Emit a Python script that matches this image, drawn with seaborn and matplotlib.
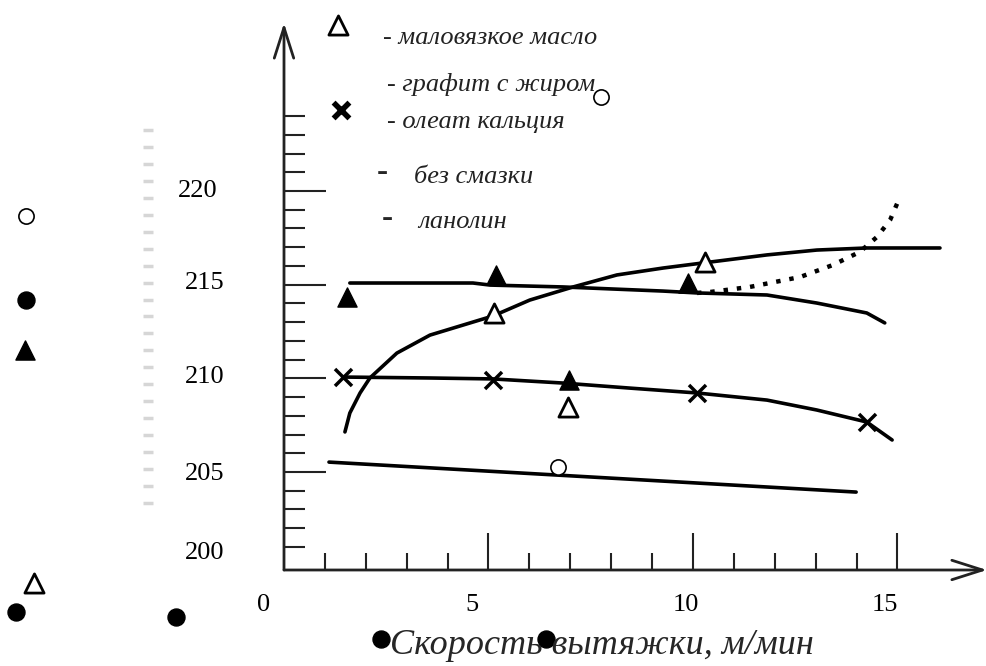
import numpy as np
import pandas as pd
import seaborn as sns
import matplotlib.pyplot as plt

sns.set_style("white")
plt.rcParams['font.family'] = ['Liberation Serif', 'DejaVu Serif']

# ── Data ────────────────────────────────────────────
# маловязкое масло (open triangles), rising curve
oil_x = [1.49, 1.61, 1.86, 2.10, 2.76, 3.57, 5.11, 6.01, 7.07, 8.14, 9.27, 10.24, 11.81, 13.03, 14.25, 16.04]
oil_y = [207.14, 208.15, 209.22, 210.02, 211.35, 212.31, 213.33, 214.18, 214.88, 215.52, 215.89, 216.16, 216.59, 216.85, 216.96, 216.96]
oil_pts_x = [5.13, 10.29, 6.94]
oil_pts_y = [213.49, 216.20, 208.47]

# filled-triangle curve (flat, then falling)
dry_x = [1.61, 4.62, 5.04, 6.82, 8.04, 9.27, 10.10, 11.81, 13.03, 14.25, 14.69]
dry_y = [215.09, 215.09, 214.98, 214.88, 214.77, 214.66, 214.56, 214.45, 214.02, 213.49, 212.96]
dry_pts_x = [1.54, 5.18, 9.88, 6.97]
dry_pts_y = [214.34, 215.52, 215.09, 209.91]

# dotted continuation
dot_x = [10.10, 10.42, 11.39, 12.62, 13.42, 14.08, 14.50, 14.82, 15.01]
dot_y = [214.56, 214.61, 214.88, 215.41, 216.05, 216.75, 217.55, 218.45, 219.42]

# олеат кальция (crosses)
ole_x = [1.44, 3.57, 5.11, 6.82, 8.46, 10.10, 11.81, 13.03, 14.25, 14.87]
ole_y = [210.07, 210.02, 209.97, 209.75, 209.48, 209.22, 208.84, 208.31, 207.67, 206.71]
ole_pts_x = [1.44, 5.11, 10.10, 14.25]
ole_pts_y = [210.07, 209.91, 209.22, 207.67]

# bottom straight line + open circle
low_x = [1.10, 13.99]
low_y = [205.53, 203.93]
circ_x = [6.70, 7.75, -6.31]
circ_y = [205.27, 225.02, 218.67]

# stray filled markers around the frame
dots_x = [-6.31, -6.55, -2.64, 2.37, 6.41]
dots_y = [214.18, 197.53, 197.26, 196.1, 196.1]
stray_tri_x = [-6.33]
stray_tri_y = [211.51]
stray_open_tri_x = [-6.11, 1.32]
stray_open_tri_y = [199.07, 228.87]

x_major = [5, 10, 15]
x_minor = list(range(1, 16))
x_labels = ["0", "5", "10", "15"]
x_label_pos = [-0.51, 4.60, 9.83, 14.69]
y_major = [205, 210, 215, 220]
y_minor = list(range(201, 225))
y_labels = ["200", "205", "210", "215", "220"]
y_label_pos = [200.68, 204.89, 210.07, 215.09, 220.0]

legend_items = ["- маловязкое масло", "- графит с жиром", "- олеат кальция"]

W, H = 987, 666
fig = plt.figure(figsize=(W / 100, H / 100), dpi=100)
ax = fig.add_axes([284 / W, 1 - 570 / H, (987 - 284) / W, (570 - 23) / H])
ax.set_xlim(0, 17.19)
ax.set_ylim(199.77, 228.97)

def px(x, y):
    return x / W, 1 - y / H

# ── Curves ─────────────────────────────────────────
lw = 2.6
for xs, ys in [(oil_x, oil_y), (dry_x, dry_y), (ole_x, ole_y), (low_x, low_y)]:
    sns.lineplot(x=xs, y=ys, sort=False, estimator=None, color="black", lw=lw, ax=ax)
ax.plot(dot_x, dot_y, color="black", lw=3.2, ls=(0, (1, 2.0)), solid_capstyle="butt")

# ── Markers ────────────────────────────────────────
kw = dict(ax=ax, clip_on=False, legend=False)
sns.scatterplot(x=oil_pts_x + stray_open_tri_x, y=oil_pts_y + stray_open_tri_y, marker="^",
                s=190, facecolor="white", edgecolor="black", linewidth=2, zorder=5, **kw)
sns.scatterplot(x=dry_pts_x + stray_tri_x, y=dry_pts_y + stray_tri_y, marker="^",
                s=190, color="black", edgecolor="black", linewidth=1, zorder=5, **kw)
sns.scatterplot(x=ole_pts_x, y=ole_pts_y, marker="x", s=150, color="black", linewidth=2.5, zorder=5, **kw)
sns.scatterplot(x=circ_x, y=circ_y, marker="o", s=120, facecolor="white", edgecolor="black",
                linewidth=1.2, zorder=5, **kw)
sns.scatterplot(x=dots_x, y=dots_y, marker="o", s=150, color="black", edgecolor="black", zorder=5, **kw)
sns.scatterplot(x=[1.39], y=[224.33], marker="x", s=130, color="black", linewidth=4, zorder=5, **kw)

# ── Axes with arrows ───────────────────────────────
for s in ax.spines.values():
    s.set_visible(False)
arrow = dict(arrowstyle="->,head_length=1.1,head_width=0.35", lw=2, color="#222222",
             shrinkA=0, shrinkB=0, mutation_scale=20)
ax.annotate("", xy=(1, 0), xytext=(0, 0), xycoords="axes fraction", arrowprops=arrow)
ax.annotate("", xy=(0, 1), xytext=(0, 0), xycoords="axes fraction", arrowprops=arrow)

ax.set_xticks(x_major)
ax.set_xticks(x_minor, minor=True)
ax.set_yticks(y_major)
ax.set_yticks(y_minor, minor=True)
ax.tick_params(which="both", direction="in", color="#222222", width=1.5,
               labelbottom=False, labelleft=False, bottom=True, left=True)
ax.tick_params(axis="x", which="major", length=27)
ax.tick_params(axis="x", which="minor", length=12)
ax.tick_params(axis="y", which="major", length=30)
ax.tick_params(axis="y", which="minor", length=15)

for lab, pos in zip(x_labels, x_label_pos):
    ax.text(pos, 197.9, lab, ha="center", va="center", fontsize=19, color="black", clip_on=False)
for lab, pos in zip(y_labels, y_label_pos):
    ax.text(-1.95 if lab != "220" else -2.1, pos, lab, ha="center", va="center",
            fontsize=19, color="black", clip_on=False)

# faint, illegible column left of the y axis
col_y = np.linspace(130, 503, 23)
ax.plot([148 / W] * len(col_y), 1 - col_y / H, ls="none", marker="_", ms=7, mew=2.5,
        color="#d6d6d6", transform=fig.transFigure, clip_on=False)

# ── Legend texts ───────────────────────────────────
lt = dict(fontsize=19, style="italic", va="center", ha="left", color="#222222")
fig.text(*px(383, 38), legend_items[0], **lt)
fig.text(*px(387, 85), legend_items[1], **lt)
fig.text(*px(387, 122), legend_items[2], **lt)
fig.text(*px(377, 173), "-", fontsize=24, fontweight="bold", va="center", ha="left")
fig.text(*px(414, 177), "без смазки", **lt)
fig.text(*px(382, 218), "-", fontsize=24, fontweight="bold", va="center", ha="left")
fig.text(*px(418, 222), "ланолин", **lt)

fig.text(*px(390, 645), "Скорость вытяжки, м/мин", fontsize=26, style="italic",
         va="center", ha="left")

fig.savefig("out.png", dpi=100)
